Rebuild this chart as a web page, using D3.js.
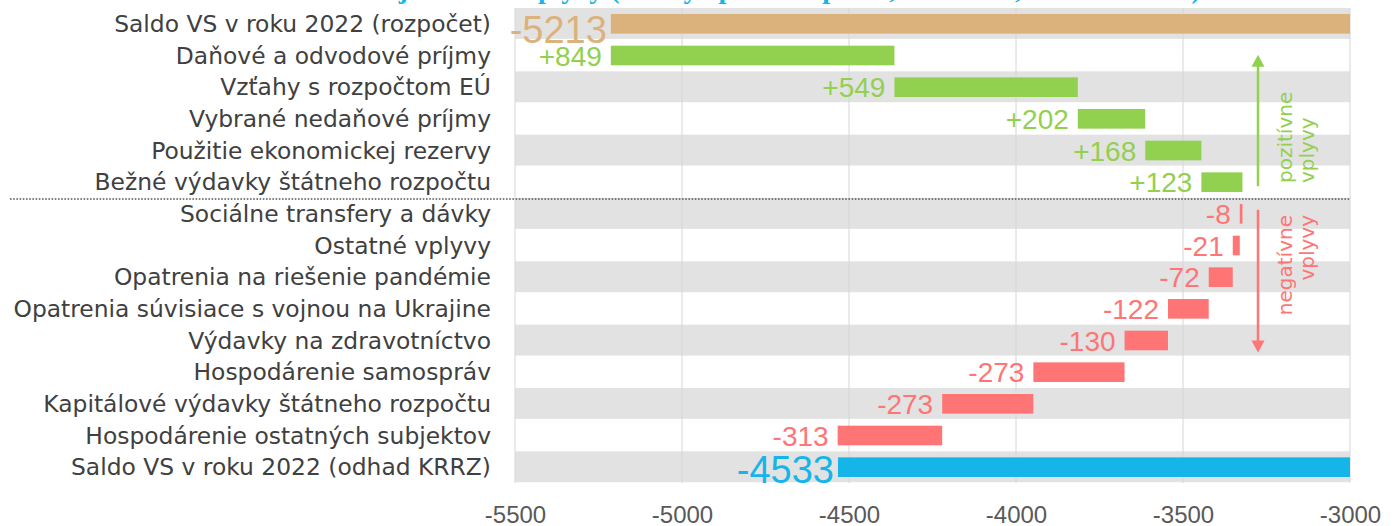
<!DOCTYPE html>
<html>
<head>
<meta charset="utf-8">
<script src="https://cdn.jsdelivr.net/npm/d3@7"></script>
<style>
  html, body { margin: 0; padding: 0; background: #ffffff; }
  svg { display: block; }
</style>
</head>
<body>
<svg id="chart" width="1395" height="526"></svg>
<script>
// ---------------- data ----------------
const categories = [
  "Saldo VS v roku 2022 (rozpočet)",
  "Daňové a odvodové príjmy",
  "Vzťahy s rozpočtom EÚ",
  "Vybrané nedaňové príjmy",
  "Použitie ekonomickej rezervy",
  "Bežné výdavky štátneho rozpočtu",
  "Sociálne transfery a dávky",
  "Ostatné vplyvy",
  "Opatrenia na riešenie pandémie",
  "Opatrenia súvisiace s vojnou na Ukrajine",
  "Výdavky na zdravotníctvo",
  "Hospodárenie samospráv",
  "Kapitálové výdavky štátneho rozpočtu",
  "Hospodárenie ostatných subjektov",
  "Saldo VS v roku 2022 (odhad KRRZ)"
];
const values = [-5213, 849, 549, 202, 168, 123, -8, -21, -72, -122, -130, -273, -273, -313, -4533];
const kinds  = ["start", "delta", "delta", "delta", "delta", "delta", "delta", "delta", "delta", "delta", "delta", "delta", "delta", "delta", "end"];
const tickValues = [-5500, -5000, -4500, -4000, -3500, -3000];
const xDomain = [-5500, -3000];
const titleText = "Rozdiel salda VS – jednotlivé vplyvy (zmeny oproti rozpočtu, v mil. eur, odhad KRRZ)";
const groupLabels = { pos: ["pozitívne", "vplyvy"], neg: ["negatívne", "vplyvy"] };

// ---------------- styles ----------------
const C = {
  start: "#DBB27B", end: "#15B5E9", pos: "#92D050", neg: "#FF7575",
  band: "#E2E2E2", grid: "#D6D6D6", text: "#404040", axis: "#595959", title: "#15B5E9"
};
const plot = { left: 515, right: 1350, top: 8, bottom: 483 };
const fmt = v => String(Math.round(v)); // plain hyphen-minus like the reference

const svg = d3.select("#chart");

const x = d3.scaleLinear().domain(xDomain).range([plot.left, plot.right]).clamp(true);
const y = d3.scaleBand().domain(categories).range([plot.top, plot.bottom]).padding(0);
const step = y.step();
const barH = step * 0.62;

// running totals
let cum = 0;
const rows = categories.map((c, i) => {
  const v = values[i], k = kinds[i];
  let a, b, color, label, big = false;
  if (k === "start" || k === "end") {
    a = v; b = 0; cum = v; color = k === "start" ? C.start : C.end;
    label = fmt(v); big = true;
  } else {
    a = cum; b = cum + v; cum = b; color = v >= 0 ? C.pos : C.neg;
    label = (v > 0 ? "+" : "") + fmt(v);
  }
  return { c, i, v, a, b, color, label, big };
});

// title (cut off at the top edge, only descenders visible)
const title = svg.append("text")
  .attr("font-family", "'Liberation Serif', serif")
  .attr("font-weight", "bold")
  .attr("font-size", 28)
  .attr("fill", C.title)
  .attr("y", -2)
  .text(titleText);
{
  const probe = svg.append("text").attr("font-family", "'Liberation Serif', serif")
    .attr("font-weight", "bold").attr("font-size", 28).text("Rozdiel salda VS – jednotlivé v");
  const w = probe.node().getComputedTextLength();
  probe.remove();
  title.attr("x", 538 - w);
}

// alternating bands
svg.append("g").selectAll("rect").data(rows.filter(r => r.i % 2 === 0)).join("rect")
  .attr("x", plot.left).attr("width", plot.right - plot.left)
  .attr("y", d => y(d.c)).attr("height", step - 0.8)
  .attr("fill", C.band);

// grid lines
svg.append("g").selectAll("line").data(tickValues).join("line")
  .attr("x1", d => x(d)).attr("x2", d => x(d))
  .attr("y1", plot.top).attr("y2", plot.bottom)
  .attr("stroke", C.grid).attr("stroke-width", 1);

// bars
svg.append("g").selectAll("rect").data(rows).join("rect")
  .attr("x", d => x(Math.min(d.a, d.b)))
  .attr("width", d => Math.max(1, Math.abs(x(d.b) - x(d.a))))
  .attr("y", d => y(d.c) + (step - barH) / 2)
  .attr("height", barH)
  .attr("fill", d => d.color);

// value labels
svg.append("g").selectAll("text").data(rows).join("text")
  .attr("font-family", "'Liberation Sans', Arial, sans-serif")
  .attr("font-size", d => d.big ? 38 : 28)
  .attr("text-anchor", "end")
  .attr("x", d => x(Math.min(d.a, d.b)) - (d.big ? 4 : 9))
  .attr("y", d => y(d.c) + step / 2 + (d.big ? (d.i === 0 ? 19 : 16) : 10))
  .attr("fill", d => d.color)
  .text(d => d.label);

// category labels
svg.append("g").selectAll("text").data(categories).join("text")
  .attr("font-family", "'DejaVu Sans', sans-serif")
  .attr("font-size", 23.4)
  .attr("text-anchor", "end")
  .attr("x", 491)
  .attr("y", d => y(d) + step / 2 + 8)
  .attr("fill", C.text)
  .text(d => d);

// dotted separator between positive and negative effects
const sepY = y(categories[6]) + 1;
svg.append("line")
  .attr("x1", 10).attr("x2", plot.right)
  .attr("y1", sepY).attr("y2", sepY)
  .attr("stroke", "#555").attr("stroke-width", 1.6).attr("stroke-dasharray", "1.6,1.6");

// x axis
const axis = d3.axisBottom(x).tickValues(tickValues).tickSize(0).tickPadding(23).tickFormat(fmt);
const gx = svg.append("g").attr("transform", `translate(0,${plot.bottom})`).call(axis);
gx.select(".domain").remove();
gx.selectAll("text")
  .attr("font-family", "'Liberation Sans', Arial, sans-serif")
  .attr("font-size", 24)
  .attr("fill", C.axis);

// arrows and group labels
const ax = 1258;
function arrow(y1, y2, color) {
  const dir = y2 < y1 ? -1 : 1;
  const headL = 12, headW = 6.5;
  svg.append("line").attr("x1", ax).attr("x2", ax)
    .attr("y1", y1).attr("y2", y2 - dir * headL + dir * 1)
    .attr("stroke", color).attr("stroke-width", 2.5);
  svg.append("path")
    .attr("d", `M${ax},${y2} L${ax - headW},${y2 - dir * headL} L${ax + headW},${y2 - dir * headL} Z`)
    .attr("fill", color);
}
const posTop = y(categories[1]) + 15;
const posBot = y(categories[5]) + step / 2 + 4;
const negTop = y(categories[6]) + step / 2 - 4;
const negBot = y(categories[10]) + step / 2 + 12;
arrow(posBot, posTop, C.pos);
arrow(negTop, negBot, C.neg);

function groupText(lines, yPos, anchor, color) {
  const g = svg.append("g").attr("transform", `translate(1292,${yPos}) rotate(-90)`);
  lines.forEach((t, i) => {
    g.append("text").attr("x", 0).attr("y", i * 22)
      .attr("font-family", "'DejaVu Sans', sans-serif")
      .attr("font-size", 20)
      .attr("text-anchor", anchor)
      .attr("fill", color)
      .text(t);
  });
}
groupText(groupLabels.pos, 183, "start", C.pos);
groupText(groupLabels.neg, 215, "end", C.neg);
</script>
</body>
</html>
